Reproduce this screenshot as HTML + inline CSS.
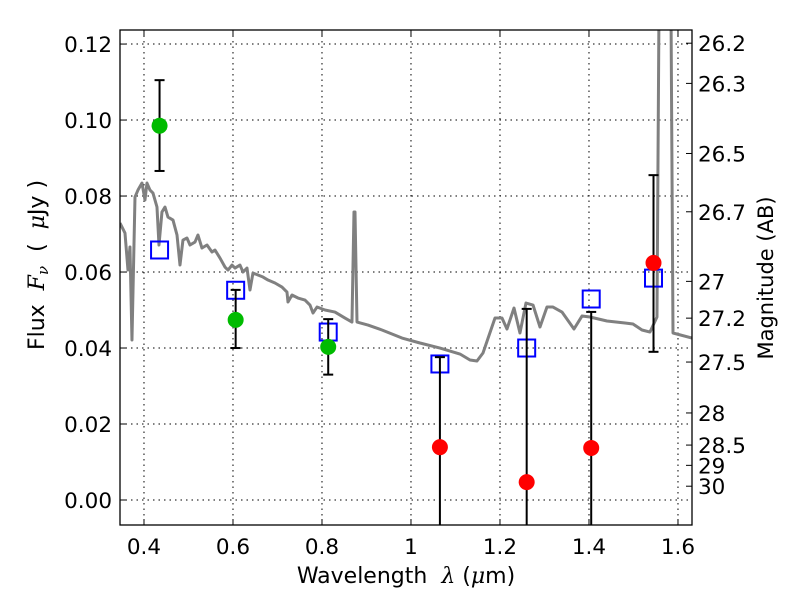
<!DOCTYPE html>
<html><head><meta charset="utf-8"><style>
html,body{margin:0;padding:0;background:#fff;}
svg{display:block;font-family:"DejaVu Sans","Liberation Sans",sans-serif;}
</style></head><body>
<svg id="chart" width="800" height="600">
<defs><clipPath id="clip"><rect x="120" y="30" width="572" height="495"/></clipPath></defs>
<rect width="800" height="600" fill="#fff"/>
<g id="grid"></g>
<g id="marks" clip-path="url(#clip)"></g>
<rect x="120" y="30" width="572" height="495" fill="none" stroke="#000" stroke-width="1.3"/>
<g id="axes"></g>
<text x="406" y="583" font-size="22" text-anchor="middle" xml:space="preserve">Wavelength  <tspan font-family="DejaVu Serif,serif" font-style="italic">λ</tspan> (<tspan font-family="DejaVu Serif,serif" font-style="italic">μ</tspan>m)</text>
<text transform="translate(44,265) rotate(-90)" font-size="22" text-anchor="middle" xml:space="preserve">Flux  <tspan font-family="DejaVu Serif,serif" font-style="italic">F<tspan font-size="15" dy="4">ν</tspan></tspan><tspan dy="-4">  (  </tspan><tspan font-family="DejaVu Serif,serif" font-style="italic">μ</tspan>Jy )</text>
<text transform="translate(773,278) rotate(-90)" font-size="21" text-anchor="middle">Magnitude (AB)</text>
</svg>
<script>
const xTicks=[0.4,0.6,0.8,1,1.2,1.4,1.6];
const xTickLabels=["0.4","0.6","0.8","1","1.2","1.4","1.6"];
const yTicks=[0,0.02,0.04,0.06,0.08,0.10,0.12];
const yTickLabels=["0.00","0.02","0.04","0.06","0.08","0.10","0.12"];
const magTicks=[26.2,26.3,26.5,26.7,27,27.2,27.5,28,28.5,29,30];
const magTickLabels=["26.2","26.3","26.5","26.7","27","27.2","27.5","28","28.5","29","30"];
const greenX=[0.435,0.606,0.814];
const greenY=[0.0985,0.0474,0.0403];
const greenHi=[0.1105,0.0553,0.0476];
const greenLo=[0.0866,0.0400,0.0330];
const redX=[1.065,1.26,1.405,1.545];
const redY=[0.0139,0.0047,0.0137,0.0624];
const redHi=[0.0376,0.0503,0.0495,0.0855];
const redLo=[-0.03,-0.03,-0.03,0.039];
const sqX=[0.435,0.606,0.814,1.065,1.26,1.405,1.545];
const sqY=[0.0658,0.0552,0.0442,0.0358,0.0400,0.0529,0.0584];
const specPx=[[120,223],[125,233],[128,270],[130,247],[132,340],[135,197],[138,190],[142,183],[145,200],[147,183],[150,190],[153,193],[157,207],[159,245],[162,212],[165,207],[168,217],[173,220],[177,235],[180,265],[183,240],[187,238],[190,245],[195,242],[198,235],[202,248],[207,245],[212,252],[215,250],[220,258],[225,267],[228,270],[232,265],[235,268],[240,265],[243,272],[247,268],[250,290],[253,273],[258,275],[263,277],[268,280],[275,283],[282,287],[287,292],[288,302],[292,295],[298,298],[305,300],[310,305],[313,313],[317,307],[325,310],[335,312],[345,318],[352,322],[354,212],[355,212],[357,322],[368,325],[382,330],[402,338],[420,343],[440,348],[460,354],[470,360],[477,361],[483,353],[495,318],[502,318],[507,329],[514,308],[520,333],[526,303],[533,305],[540,327],[547,307],[553,307],[562,312],[574,329],[582,316],[590,317],[607,321],[625,323],[633,324],[642,330],[650,332],[657,317],[659,10],[671,10],[673,333],[692,338]];
const specWave=specPx.map(p=>+((p[0]-144)/445+0.4).toFixed(4));
const specFlux=specPx.map(p=>+((500-p[1])/3800).toFixed(5));

const X0=120,X1=692,Y0=30,Y1=525,XMIN=0.3461,XMAX=1.6315,YMIN=-0.00658,YMAX=0.1237;
const sx=v=>X0+(v-XMIN)/(XMAX-XMIN)*(X1-X0);
const sy=v=>Y1-(v-YMIN)/(YMAX-YMIN)*(Y1-Y0);
const NS="http://www.w3.org/2000/svg";
function mk(parent,tag,attrs){const e=document.createElementNS(NS,tag);for(const k in attrs)e.setAttribute(k,attrs[k]);document.getElementById(parent).appendChild(e);return e;}
xTicks.forEach((t,i)=>{const x=sx(t);
 let g=mk('grid','line',{x1:x,x2:x,y1:Y0,y2:Y1,stroke:'#000','stroke-width':1,'stroke-dasharray':'1.5,4'});
 
 
 mk('axes','line',{x1:x,x2:x,y1:Y1,y2:Y1-6,stroke:'#000'});
 mk('axes','line',{x1:x,x2:x,y1:Y0,y2:Y0+6,stroke:'#000'});
 let l=mk('axes','text',{x:x,y:554,'font-size':21.5,'text-anchor':'middle'});l.textContent=xTickLabels[i];
 
 });
yTicks.forEach((t,i)=>{const y=sy(t);
 let g=mk('grid','line',{x1:X0,x2:X1,y1:y,y2:y,stroke:'#000','stroke-width':1,'stroke-dasharray':'1.5,4'});
 
 
 mk('axes','line',{x1:X0,x2:X0+6,y1:y,y2:y,stroke:'#000'});
 let l=mk('axes','text',{x:112,y:y+8,'font-size':21.5,'text-anchor':'end'});l.textContent=yTickLabels[i];
 
 });
magTicks.forEach((m,i)=>{const y=sy(Math.pow(10,(23.9-m)/2.5));
 mk('axes','line',{x1:X1,x2:X1-6,y1:y,y2:y,stroke:'#000'});
 let l=mk('axes','text',{x:698,y:y+8,'font-size':21.5});l.textContent=magTickLabels[i];
 
 });
let sp=mk('marks','polyline',{points:specWave.map((w,i)=>sx(w)+','+sy(specFlux[i])).join(' '),fill:'none',stroke:'#808080','stroke-width':3,'stroke-linejoin':'round'});


function errbar(x,lo,hi){const px=sx(x);
 mk('marks','line',{x1:px,x2:px,y1:sy(lo),y2:sy(hi),stroke:'#000','stroke-width':2});
 mk('marks','line',{x1:px-5,x2:px+5,y1:sy(hi),y2:sy(hi),stroke:'#000','stroke-width':2});
 mk('marks','line',{x1:px-5,x2:px+5,y1:sy(lo),y2:sy(lo),stroke:'#000','stroke-width':2});}
sqX.forEach((x,i)=>{let r=mk('marks','rect',{x:sx(x)-8.5,y:sy(sqY[i])-8.5,width:17,height:17,fill:'none',stroke:'#0000ff','stroke-width':2});
 
 });
greenX.forEach((x,i)=>{errbar(x,greenLo[i],greenHi[i]);
 let c=mk('marks','circle',{cx:sx(x),cy:sy(greenY[i]),r:8,fill:'#00bb00'});
 
 });
redX.forEach((x,i)=>{errbar(x,redLo[i],redHi[i]);
 let c=mk('marks','circle',{cx:sx(x),cy:sy(redY[i]),r:8,fill:'#ff0000'});
 
 });
</script>
</body></html>
